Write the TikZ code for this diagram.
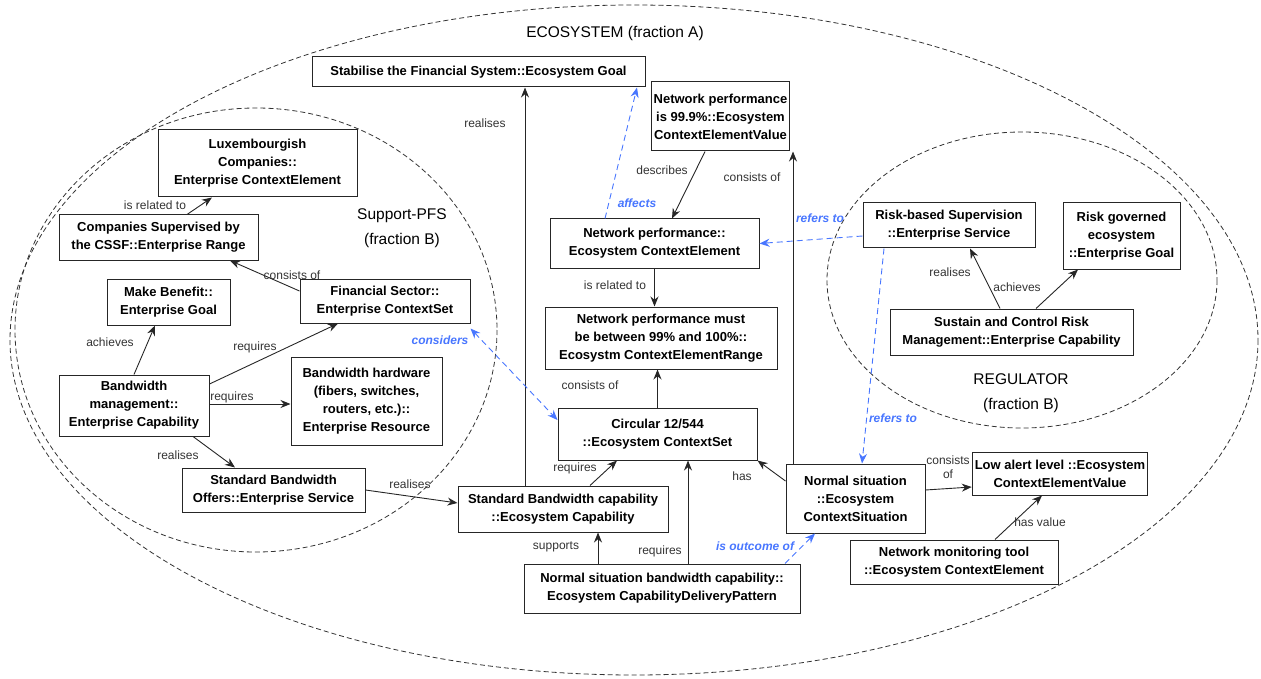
\documentclass[tikz,border=0pt]{standalone}
\usepackage{fontspec}
\setmainfont{Liberation Sans}
\usetikzlibrary{arrows.meta}
\definecolor{bl}{RGB}{72,118,255}
\tikzset{
 box/.style={draw=black!85, line width=1pt, fill=white, font=\fontsize{13}{18}\selectfont\bfseries, align=center, inner sep=2.5pt},
 arr/.style={draw=black!85, line width=0.9pt, -{Stealth[length=10pt,width=8pt]}},
 barr/.style={draw=bl, line width=0.9pt, dash pattern=on 6pt off 4pt, -{Stealth[length=10pt,width=8pt]}},
 lbl/.style={font=\fontsize{12}{14}\selectfont, text=black!80, inner sep=1pt, align=center},
 blbl/.style={font=\fontsize{12}{14}\selectfont\bfseries\itshape, text=bl, inner sep=1pt},
 region/.style={draw=black!80, line width=0.8pt, dash pattern=on 5pt off 3pt},
 rlbl/.style={font=\fontsize{15.5}{25}\selectfont, align=center, inner sep=0pt},
}
\begin{document}
\begin{tikzpicture}[x=1pt,y=-1pt]
\useasboundingbox (0,0) rectangle (1261,679);
% regions
\draw[region] (634,340) ellipse [x radius=624, y radius=335];
\draw[region] (256,330) ellipse [x radius=241, y radius=222];
\draw[region] (1022,280) ellipse [x radius=195, y radius=148];
\node[rlbl] (teco) at (615,33) {ECOSYSTEM (fraction A)};
\node[rlbl] (tpfs) at (402,228) {Support-PFS\\(fraction B)};
\node[rlbl] (treg) at (1021,393) {REGULATOR\\(fraction B)};
% boxes
\node[box, minimum width=333, minimum height=30] (stab) at (478.5,72) {Stabilise the Financial System::Ecosystem Goal};
\node[box, minimum width=131, minimum height=69] (np999) at (720.5,116.5) {Network performance\\is 99.9\%::Ecosystem\\ContextElementValue};
\node[box, minimum width=199, minimum height=67] (lux) at (257.5,163.5) {Luxembourgish\\Companies::\\Enterprise ContextElement};
\node[box, minimum width=199, minimum height=45] (csup) at (158.5,237.5) {Companies Supervised by\\the CSSF::Enterprise Range};
\node[box, minimum width=209, minimum height=49] (npce) at (654.5,243.5) {Network performance::\\Ecosystem ContextElement};
\node[box, minimum width=172, minimum height=45] (rbs) at (949,225.5) {Risk-based Supervision\\::Enterprise Service};
\node[box, minimum width=117, minimum height=66] (rge) at (1121.5,236) {Risk governed\\ecosystem\\::Enterprise Goal};
\node[box, minimum width=170, minimum height=44] (fs) at (385,301) {Financial Sector::\\Enterprise ContextSet};
\node[box, minimum width=123, minimum height=46] (mb) at (168.5,302) {Make Benefit::\\Enterprise Goal};
\node[box, minimum width=232, minimum height=62] (npm) at (661,338) {Network performance must\\be between 99\% and 100\%::\\Ecosystm ContextElementRange};
\node[box, minimum width=243, minimum height=46] (scr) at (1011.5,332) {Sustain and Control Risk\\Management::Enterprise Capability};
\node[box, minimum width=150, minimum height=61] (bm) at (134,405.5) {Bandwidth\\management::\\Enterprise Capability};
\node[box, minimum width=151, minimum height=88] (bh) at (366.5,401) {Bandwidth hardware\\(fibers, switches,\\routers, etc.)::\\Enterprise Resource};
\node[box, minimum width=199, minimum height=52] (circ) at (657.5,434) {Circular 12/544\\::Ecosystem ContextSet};
\node[box, minimum width=183, minimum height=44] (sbo) at (273.5,490) {Standard Bandwidth\\Offers::Enterprise Service};
\node[box, minimum width=210, minimum height=46] (sbc) at (563,509) {Standard Bandwidth capability\\::Ecosystem Capability};
\node[box, minimum width=139, minimum height=69] (ns) at (855.5,498.5) {Normal situation\\::Ecosystem\\ContextSituation};
\node[box, minimum width=172, minimum height=43] (lal) at (1060,473.5) {Low alert level ::Ecosystem\\ContextElementValue};
\node[box, minimum width=208, minimum height=44] (nmt) at (954,562) {Network monitoring tool\\::Ecosystem ContextElement};
\node[box, minimum width=276, minimum height=49] (nsbc) at (662,588.5) {Normal situation bandwidth capability::\\Ecosystem CapabilityDeliveryPattern};
% helper coordinates
\coordinate (c1) at ([xshift=-38pt]sbc.north);
\coordinate (c2) at ([xshift=-62.5pt]ns.north);
\coordinate (c3) at ([xshift=26pt]nsbc.north);
\coordinate (c4) at ([xshift=-64pt]nsbc.north);
\coordinate (c5) at ([yshift=1.5pt]bm.east);
% black connectors
\draw[arr] (c1) -- (c1 |- stab.south);
\draw[arr] ([xshift=-15.5pt]np999.south) -- ([xshift=17.5pt]npce.north);
\draw[arr] (c2) -- (c2 |- np999.south);
\draw[arr] (npce.south) -- (npce.south |- npm.north);
\draw[arr] (circ.north) -- (circ.north |- npm.south);
\draw[arr] ([xshift=27pt]sbc.north) -- ([xshift=-40.5pt]circ.south);
\draw[arr] (c3) -- (c3 |- circ.south);
\draw[arr] ([yshift=17.5pt]ns.west) -- (circ.south east);
\draw[arr] (c4) -- (c4 |- sbc.south);
\draw[arr] (sbo.east) -- ([yshift=6pt]sbc.west);
\draw[arr] ([yshift=8.5pt]ns.east) -- ([yshift=-13.5pt]lal.west);
\draw[arr] ([xshift=41pt]nmt.north) -- ([xshift=-18pt]lal.south);
\draw[arr] ([xshift=-11.5pt]scr.north) -- ([xshift=21pt]rbs.south);
\draw[arr] ([xshift=24.5pt]scr.north) -- ([xshift=-43.5pt]rge.south);
\draw[arr] (bm.north) -- ([xshift=-13.5pt]mb.south);
\draw[arr] ([yshift=21.5pt]bm.east) -- ([xshift=-47pt]fs.south);
\draw[arr] (c5) -- (c5 -| bh.west);
\draw[arr] ([xshift=59pt]bm.south) -- ([xshift=-38.5pt]sbo.north);
\draw[arr] ([yshift=10pt]fs.west) -- ([xshift=71.5pt]csup.south);
\draw[arr] ([xshift=28.5pt]csup.north) -- ([xshift=-45.5pt]lux.south);
% blue connectors
\draw[barr] ([xshift=-49.5pt]npce.north) -- ([xshift=158.5pt]stab.south);
\draw[barr] ([yshift=-10.5pt]rbs.west) -- (npce.east);
\draw[barr] ([xshift=-65pt]rbs.south) -- ([xshift=6.5pt]ns.north);
\draw[barr, {Stealth[length=10pt,width=8pt]}-{Stealth[length=10pt,width=8pt]}] ([yshift=-5pt]fs.south east) -- ([yshift=14pt]circ.west);
\draw[barr] ([xshift=123pt]nsbc.north) -- ([xshift=-40.5pt]ns.south);
% labels
\node[lbl] (l1) at (485,123) {realises};
\node[lbl] (l2) at (662,170) {describes};
\node[lbl] (l3) at (752,177) {consists of};
\node[lbl] (l4) at (615,285) {is related to};
\node[lbl] (l5) at (590,385) {consists of};
\node[lbl] (l6) at (575,468) {requires};
\node[lbl] (l7) at (660,551) {requires};
\node[lbl] (l8) at (742,476) {has};
\node[lbl] (l9) at (556,547) {supports};
\node[lbl] (l10) at (410,484) {realises};
\node[lbl] (l11) at (948,467) {consists\\of};
\node[lbl] (l12) at (1040,522) {has value};
\node[lbl] (l13) at (950,272) {realises};
\node[lbl] (l14) at (1017,287) {achieves};
\node[lbl] (l15) at (110,342) {achieves};
\node[lbl] (l16) at (255,347) {requires};
\node[lbl] (l17) at (232,397) {requires};
\node[lbl] (l18) at (178,455) {realises};
\node[lbl] (l19) at (292,275) {consists of};
\node[lbl] (l20) at (155,205) {is related to};
\node[blbl] (b1) at (637,203) {affects};
\node[blbl] (b2) at (820,218) {refers to};
\node[blbl] (b3) at (440,340) {considers};
\node[blbl] (b4) at (893,418) {refers to};
\node[blbl] (b5) at (755,546) {is outcome of};
\end{tikzpicture}
\end{document}
